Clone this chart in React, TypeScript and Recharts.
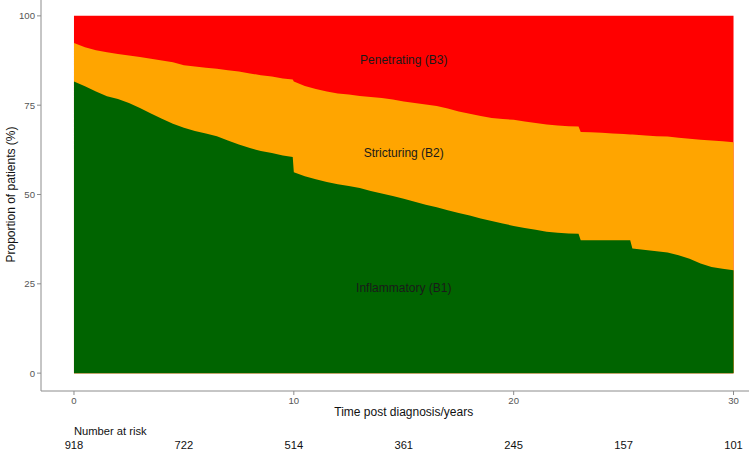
import { Area, AreaChart, ReferenceDot, XAxis, YAxis } from "recharts";

// years since diagnosis (extra points at the sharp drops)
const years = [
  0, 0.5, 1, 1.5, 2, 2.5, 3, 3.5, 4, 4.5, 5, 5.5, 6, 6.5, 7, 7.5, 8, 8.5, 9, 9.5, 9.95,
  10, 10.5, 11, 11.5, 12, 12.5, 13, 13.5, 14, 14.5, 15, 15.5, 16, 16.5, 17, 17.5,
  18, 18.5, 19, 19.5, 20, 20.5, 21, 21.5, 22, 22.5, 22.95, 23.05, 23.5, 24, 24.5, 25,
  25.3, 25.4, 26, 26.5, 27, 27.5, 28, 28.5, 29, 29.5, 30,
];

// top of the green band (B1), %
const inflammatoryTop = [
  81.6, 80.3, 78.8, 77.5, 76.7, 75.6, 74.2, 72.7, 71.2, 69.8, 68.7, 67.8, 67.1, 66.3,
  65.1, 64.0, 63.0, 62.2, 61.6, 60.9, 60.5, 56.2, 55.1, 54.3, 53.5, 52.9, 52.4, 51.8,
  51.0, 50.3, 49.6, 48.8, 48.0, 47.1, 46.4, 45.6, 44.8, 44.1, 43.3, 42.6, 41.9, 41.2,
  40.6, 40.1, 39.6, 39.3, 39.1, 39.0, 37.2, 37.2, 37.2, 37.2, 37.2, 37.2, 34.9, 34.5,
  34.1, 33.8, 33.0, 32.0, 30.7, 29.7, 29.2, 28.8,
];

// top of the orange band (B1 + B2), %
const stricturingTop = [
  92.4, 91.2, 90.4, 89.8, 89.3, 88.9, 88.5, 88.0, 87.5, 87.0, 86.2, 85.8, 85.5, 85.2,
  84.8, 84.4, 83.9, 83.4, 83.0, 82.5, 82.2, 81.6, 80.4, 79.5, 78.8, 78.3, 78.0, 77.6,
  77.3, 77.0, 76.6, 76.0, 75.6, 75.2, 74.8, 74.1, 73.2, 72.6, 72.0, 71.4, 71.1, 70.9,
  70.4, 70.0, 69.6, 69.3, 69.1, 69.0, 67.5, 67.4, 67.3, 67.1, 66.9, 66.8, 66.8, 66.5,
  66.3, 66.2, 65.9, 65.6, 65.3, 65.1, 64.9, 64.6,
];

const riskYears = [0, 5, 10, 15, 20, 25, 30];
const numberAtRisk = [918, 722, 514, 361, 245, 157, 101];
const xTicks = [0, 10, 20, 30];
const yTicks = [0, 25, 50, 75, 100];

const data = years.map((t, i) => ({
  t,
  b1: inflammatoryTop[i],
  b2: stricturingTop[i],
  all: 100,
}));

// band labels sit mid-band, centred on year 15
const mid = years.indexOf(15.5);
const bandLabels = [
  { name: "Penetrating (B3)", y: (100 + stricturingTop[mid]) / 2 },
  { name: "Stricturing (B2)", y: (inflammatoryTop[mid] + stricturingTop[mid]) / 2 },
  { name: "Inflammatory (B1)", y: inflammatoryTop[mid] / 2 },
];

const axisColor = "#8c8c8c";
const tickText = "#555555";
const font = "'Liberation Sans', Arial, sans-serif";

function TimeTick(props: any) {
  const { x, y, payload } = props;
  const t = payload.value;
  const axisY = y - 6;
  const i = riskYears.indexOf(t);
  return (
    <g>
      {xTicks.includes(t) && (
        <>
          <line x1={x} x2={x} y1={axisY} y2={axisY + 4} stroke={axisColor} />
          <text x={x} y={axisY + 12.7} textAnchor="middle" fontSize={9.6} fill={tickText}>
            {t}
          </text>
        </>
      )}
      {t === 0 && (
        <text x={x} y={axisY + 43.7} fontSize={11.2} fill="#111">
          Number at risk
        </text>
      )}
      {i >= 0 && (
        <text x={x} y={axisY + 58} textAnchor="middle" fontSize={11.2} fill="#111">
          {numberAtRisk[i]}
        </text>
      )}
    </g>
  );
}

export default function App() {
  return (
    <div
      style={{
        position: "fixed",
        left: 0,
        top: 0,
        width: 749,
        height: 451,
        overflow: "hidden",
        background: "#fff",
        fontFamily: font,
      }}
    >
      <div style={{ position: "absolute", left: 0, top: -2 }}>
        <AreaChart
          width={770}
          height={453}
          data={data}
          margin={{ top: 0, right: 3.5, left: 0, bottom: 0 }}
          style={{ fontFamily: font }}
        >
          <XAxis
            dataKey="t"
            type="number"
            domain={[-1.5, 31.5]}
            ticks={riskYears}
            interval={0}
            tick={(p: any) => <TimeTick {...p} />}
            tickLine={false}
            tickSize={4}
            tickMargin={2}
            height={60}
            axisLine={{ stroke: axisColor }}
            label={{
              value: "Time post diagnosis/years",
              position: "insideTop",
              offset: 16.5,
              fontSize: 12,
              fill: "#111",
            }}
          />
          <YAxis
            type="number"
            domain={[-5, 105]}
            ticks={yTicks}
            width={41}
            tickSize={4}
            tickMargin={2}
            tick={{ fontSize: 9.6, fill: tickText }}
            tickLine={{ stroke: axisColor }}
            axisLine={{ stroke: axisColor }}
            label={{
              value: "Proportion of patients (%)",
              angle: -90,
              position: "center",
              dx: -10,
              fontSize: 12,
              fill: "#111",
            }}
          />
          <Area
            type="linear"
            dataKey="all"
            baseValue={0}
            fill="#ff0000"
            fillOpacity={1}
            stroke="none"
            dot={false}
            activeDot={false}
            isAnimationActive={false}
          />
          <Area
            type="linear"
            dataKey="b2"
            baseValue={0}
            fill="#ffa500"
            fillOpacity={1}
            stroke="none"
            dot={false}
            activeDot={false}
            isAnimationActive={false}
          />
          <Area
            type="linear"
            dataKey="b1"
            baseValue={0}
            fill="#006400"
            fillOpacity={1}
            stroke="none"
            dot={false}
            activeDot={false}
            isAnimationActive={false}
          />
          {bandLabels.map((b) => (
            <ReferenceDot
              key={b.name}
              x={15}
              y={b.y}
              r={0}
              fill="none"
              stroke="none"
              label={{ value: b.name, position: "center", fontSize: 12, fill: "#1a1a1a" }}
            />
          ))}
        </AreaChart>
      </div>
    </div>
  );
}
